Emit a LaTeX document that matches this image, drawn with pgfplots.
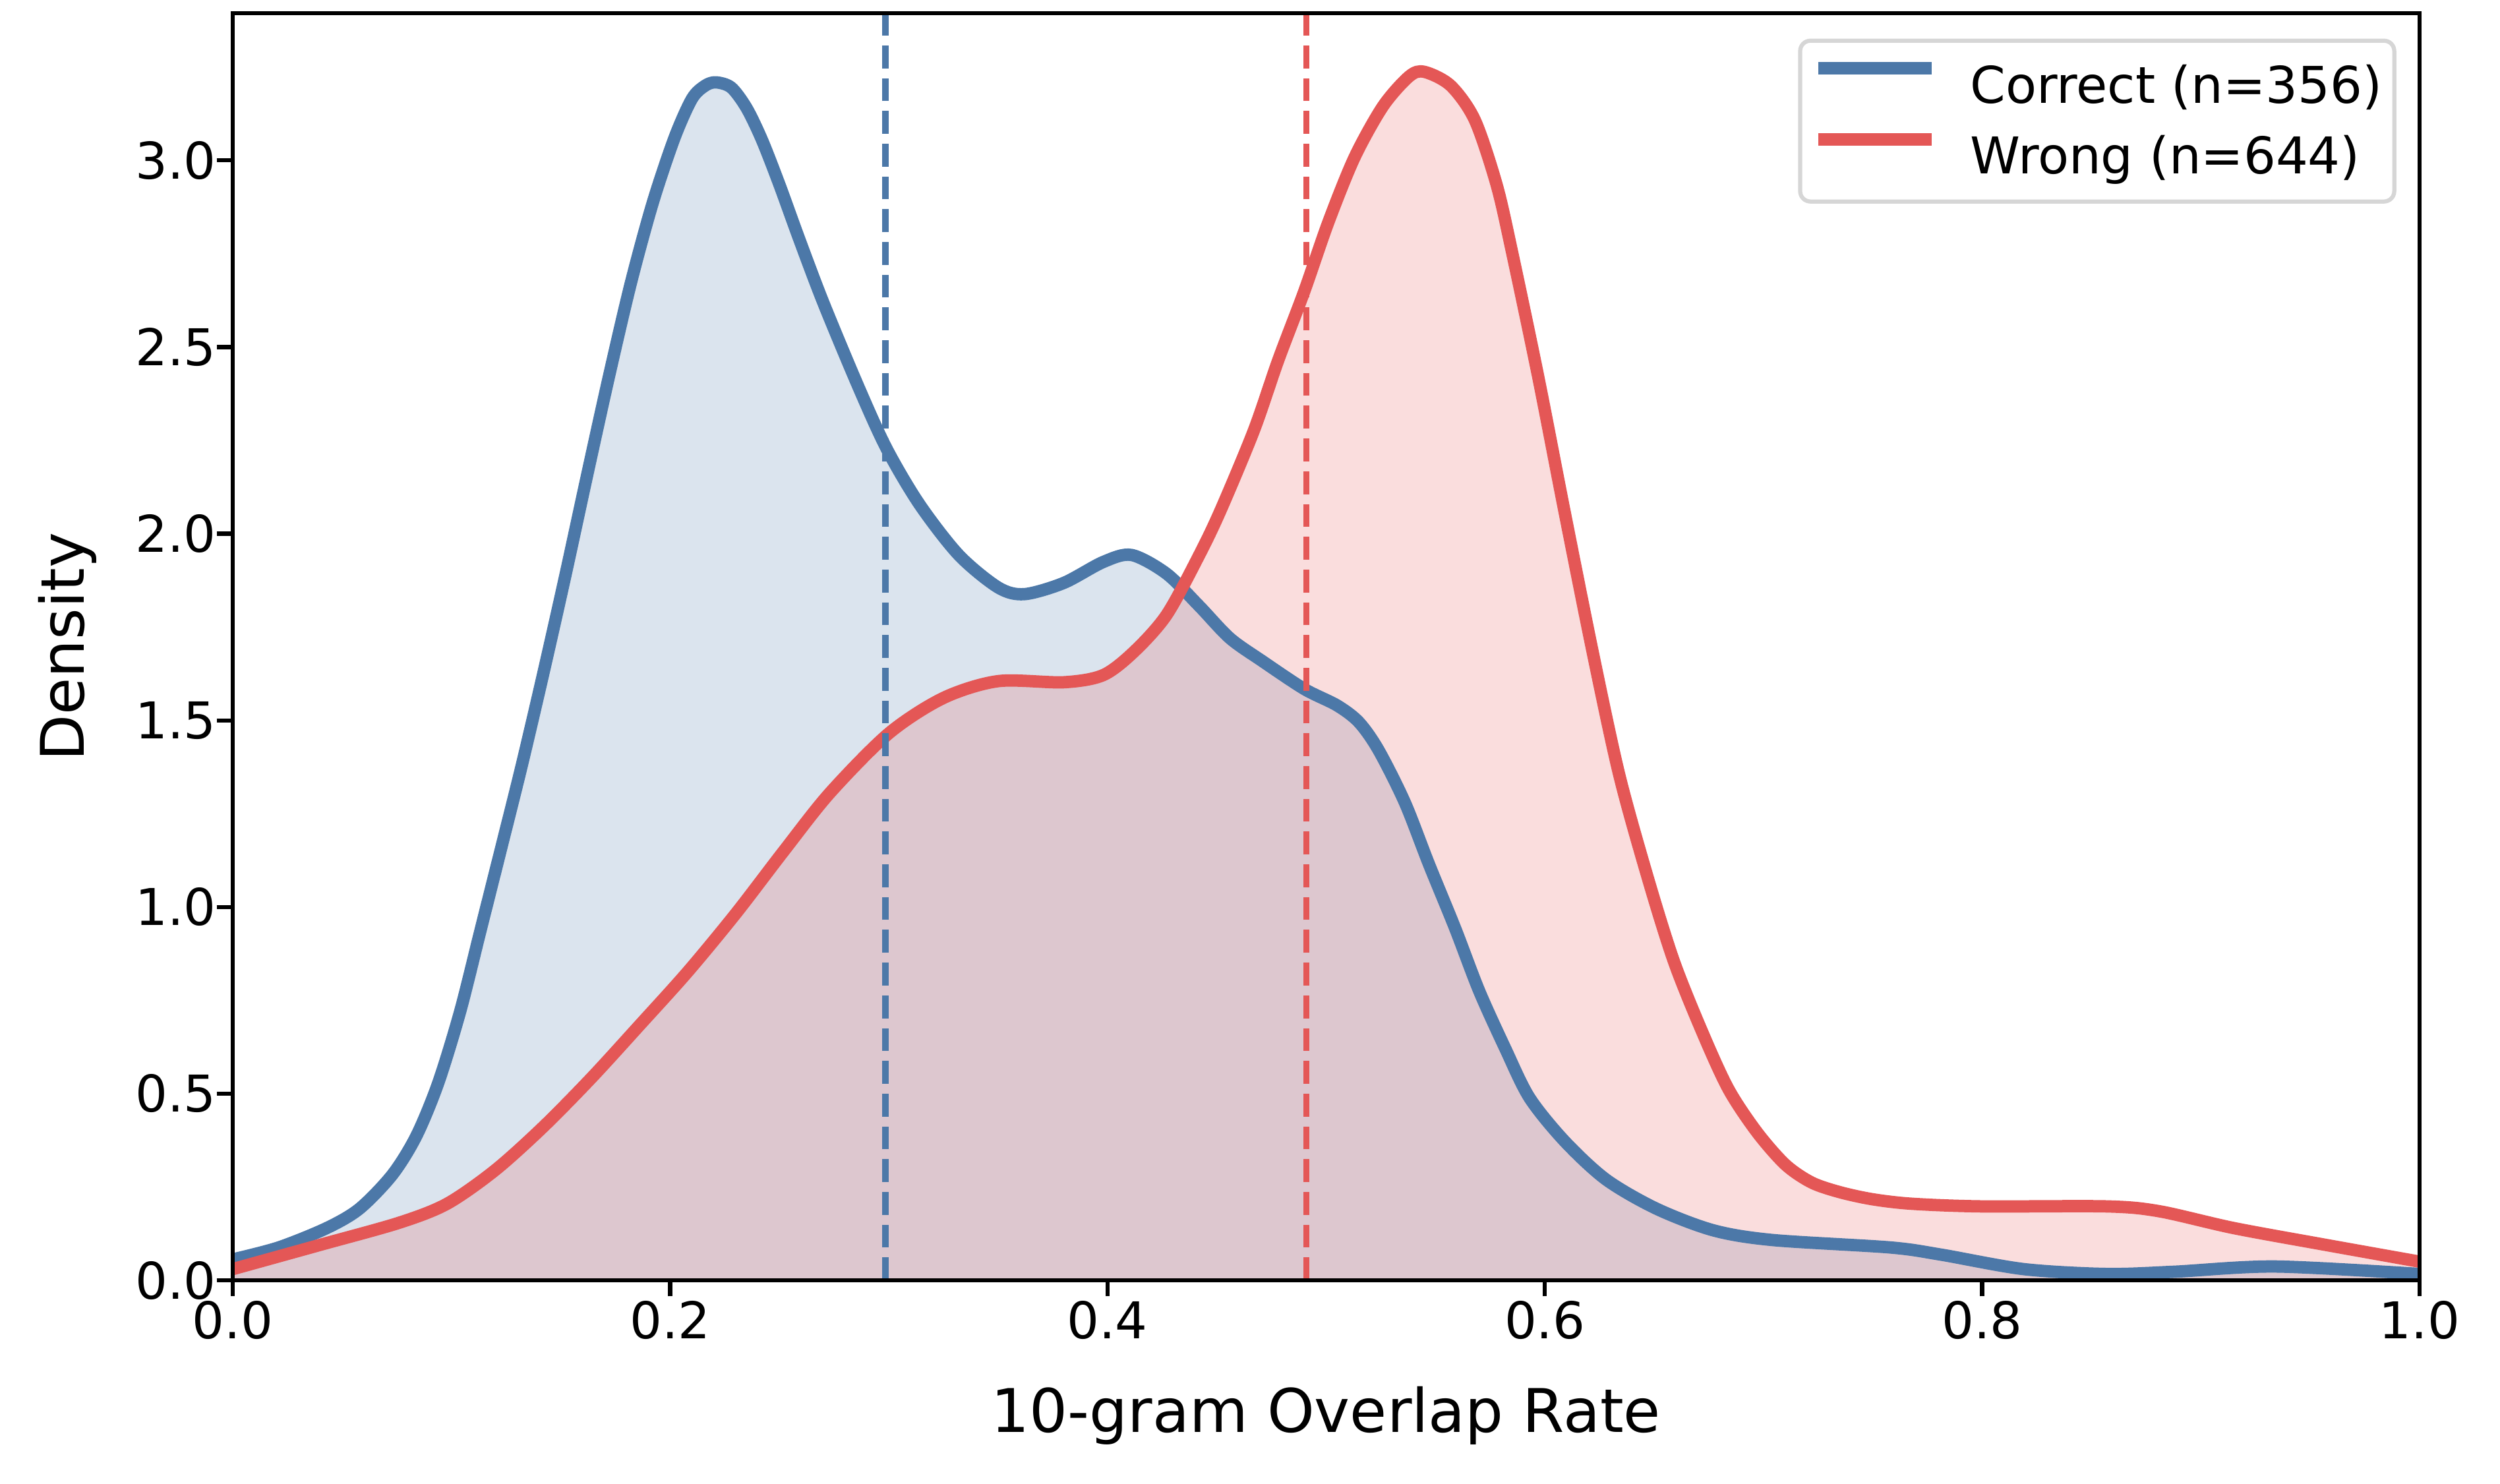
\documentclass[border=0pt]{standalone}
\usepackage{fontspec}
\setmainfont{DejaVu Sans}
\usepackage{pgfplots}
\usepackage{pgfplotstable}
\pgfplotsset{compat=1.18}
\definecolor{cBlue}{HTML}{4C78A8}
\definecolor{cRed}{HTML}{E45756}
\definecolor{legGray}{gray}{0.84}

\pgfplotstableread{
x y
0.000 0.056
0.021 0.088
0.043 0.140
0.058 0.192
0.073 0.283
0.084 0.387
0.094 0.529
0.104 0.720
0.113 0.930
0.122 1.140
0.132 1.375
0.142 1.625
0.152 1.885
0.162 2.155
0.172 2.420
0.182 2.670
0.192 2.885
0.202 3.060
0.210 3.165
0.216 3.200
0.221 3.209
0.228 3.195
0.235 3.140
0.242 3.055
0.250 2.935
0.259 2.790
0.270 2.620
0.286 2.395
0.299 2.228
0.314 2.079
0.332 1.943
0.350 1.856
0.362 1.838
0.380 1.868
0.398 1.924
0.411 1.943
0.427 1.893
0.442 1.806
0.456 1.720
0.471 1.658
0.490 1.584
0.505 1.540
0.515 1.495
0.524 1.420
0.536 1.280
0.547 1.115
0.559 0.943
0.570 0.775
0.582 0.620
0.593 0.489
0.609 0.373
0.628 0.270
0.651 0.192
0.677 0.134
0.704 0.108
0.758 0.088
0.781 0.069
0.819 0.030
0.857 0.017
0.888 0.023
0.934 0.037
1.000 0.017
}\correct

\pgfplotstableread{
x y
0.000 0.030
0.040 0.095
0.076 0.154
0.098 0.205
0.120 0.295
0.142 0.411
0.164 0.542
0.186 0.683
0.208 0.826
0.230 0.982
0.252 1.150
0.273 1.305
0.300 1.465
0.325 1.560
0.350 1.605
0.380 1.602
0.398 1.621
0.412 1.683
0.427 1.782
0.442 1.943
0.452 2.066
0.467 2.277
0.478 2.463
0.490 2.649
0.501 2.834
0.513 3.008
0.526 3.145
0.538 3.225
0.545 3.237
0.557 3.200
0.568 3.108
0.578 2.934
0.585 2.755
0.597 2.420
0.609 2.060
0.622 1.680
0.634 1.355
0.647 1.080
0.659 0.855
0.672 0.665
0.684 0.512
0.697 0.397
0.710 0.310
0.722 0.262
0.735 0.236
0.750 0.217
0.768 0.205
0.800 0.198
0.857 0.198
0.881 0.185
0.915 0.140
0.957 0.095
1.000 0.050
}\wrong

\begin{document}
\begin{tikzpicture}
\path[use as bounding box] (-56.48pt,-49.28pt) rectangle (550.24pt,310.72pt);
\begin{axis}[
  scale only axis, width=530.7pt, height=307.5pt,
  xmin=0, xmax=1, ymin=0, ymax=3.394,
  axis on top,
  axis line style={line width=1pt},
  every tick/.style={line width=1pt, black},
  tick align=outside, major tick length=3.9pt,
  tick pos=left,
  xtick={0,0.2,0.4,0.6,0.8,1.0},
  ytick={0,0.5,1.0,1.5,2.0,2.5,3.0},
  /pgf/number format/fixed,
  /pgf/number format/fixed zerofill,
  /pgf/number format/precision=1,
  /pgf/number format/assume math mode=true,
  tick label style={font=\fontsize{12.3}{14.8}\selectfont},
  xticklabel style={anchor=north, inner sep=0pt, yshift=-1pt},
  yticklabel style={anchor=east, inner sep=0pt},
  label style={font=\fontsize{14.6}{17.5}\selectfont},
  xlabel={10-gram Overlap Rate},
  ylabel={Density},
  xlabel style={at={(axis description cs:0.5,-0.11967)}, anchor=base, inner sep=0pt},
  ylabel style={at={(axis description cs:-0.06784,0.5)}, anchor=base, inner sep=0pt, rotate=0},
  legend style={at={(axis description cs:0.9894,0.9800)}, anchor=north east,
    draw=legGray, line width=1pt, rounded corners=2.5pt, fill=white,
    inner xsep=2.9pt, inner ysep=5.2pt, row sep=5.8pt,
    nodes={inner sep=0pt},
    font=\fontsize{12.3}{14.8}\selectfont},
  legend cell align=left,
  legend image code/.code={\draw[#1, line width=3pt, line cap=butt] (0pt,4.5pt) -- (27.5pt,4.5pt); \path (35.4pt,0pt);},
]
\addplot[draw=none, fill=cBlue, fill opacity=0.2, smooth, tension=0.5, forget plot] table[x=x,y=y]{\correct} \closedcycle;
\addplot[draw=none, fill=cRed, fill opacity=0.2, smooth, tension=0.5, forget plot] table[x=x,y=y]{\wrong} \closedcycle;
\addplot[cBlue, line width=3pt, line join=round, smooth, tension=0.5] table[x=x,y=y]{\correct};
\addlegendentry{Correct (n=356)}
\addplot[cRed, line width=3pt, line join=round, smooth, tension=0.5] table[x=x,y=y]{\wrong};
\addlegendentry{Wrong (n=644)}
\addplot[cBlue, line width=1.5pt, dash pattern=on 5.55pt off 2.4pt, forget plot] coordinates {(0.2985,0) (0.2985,3.394)};
\addplot[cRed, line width=1.5pt, dash pattern=on 5.55pt off 2.4pt, forget plot] coordinates {(0.491,0) (0.491,3.394)};
\end{axis}
\end{tikzpicture}
\end{document}
